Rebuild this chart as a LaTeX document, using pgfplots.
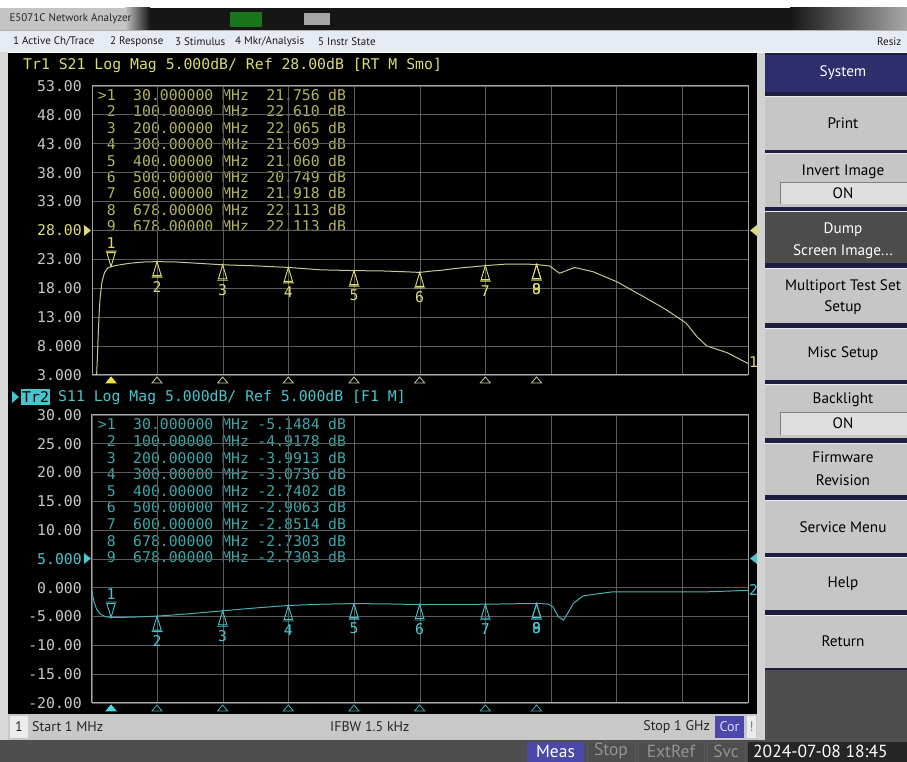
\documentclass[border=0pt]{standalone}
\usepackage{fontspec}
\usepackage{pgfplots}
\pgfplotsset{compat=1.18}
\setmainfont{PT Sans}
\newfontfamily\mono{DejaVu Sans Mono}
\newfontfamily\ui{PT Sans}
\newcommand\mf{\mono\fontsize{14.8pt}{16pt}\selectfont}
\newcommand\sk{\ui\fontsize{15.2pt}{17pt}\selectfont}
\newcommand\mnb{\ui\fontsize{11pt}{13pt}\selectfont}
\newcommand\stb{\ui\fontsize{14pt}{16pt}\selectfont}
\newcommand\btb{\ui\fontsize{17.5pt}{19pt}\selectfont}

\definecolor{gridc}{HTML}{5C5C5C}
\definecolor{borderc}{HTML}{A4A4A4}
\definecolor{tickc}{HTML}{C8C8C8}
\definecolor{trAline}{HTML}{C8C890}
\definecolor{trA}{HTML}{DCDC70}
\definecolor{trAtab}{HTML}{B4B45C}
\definecolor{trAdim}{HTML}{CACAA6}
\definecolor{trAbright}{HTML}{F2E436}
\definecolor{trBline}{HTML}{4AB0B4}
\definecolor{trB}{HTML}{46C6CE}
\definecolor{trBtab}{HTML}{3AA8AA}
\definecolor{trBdim}{HTML}{40B4B8}
\definecolor{trBbright}{HTML}{40E0E8}
\definecolor{btn}{HTML}{C6C6C6}
\definecolor{btndark}{HTML}{4C4C4C}
\definecolor{hdr}{HTML}{2E2E6C}
\definecolor{panel}{HTML}{1E1E42}
\definecolor{menubg}{HTML}{E6EAF2}
\definecolor{statusbg}{HTML}{C8C8C8}
\definecolor{bottombg}{HTML}{4E4E4E}
\definecolor{corbg}{HTML}{4A48A8}
\definecolor{tbdark}{HTML}{161616}
\definecolor{tblight}{HTML}{C4C4C4}
\definecolor{tbright}{HTML}{A8A8A8}
\definecolor{onbg}{HTML}{DEDEDE}

\pgfdeclareplotmark{mkup}{%
  \pgfpathmoveto{\pgfpoint{0pt}{0pt}}%
  \pgfpathlineto{\pgfpoint{-4.2pt}{-14pt}}%
  \pgfpathlineto{\pgfpoint{4.2pt}{-14pt}}%
  \pgfpathclose
  \pgfpathmoveto{\pgfpoint{-5.5pt}{-15.5pt}}%
  \pgfpathlineto{\pgfpoint{5.5pt}{-15.5pt}}%
  \pgfusepath{stroke}}
\pgfdeclareplotmark{mkdown}{%
  \pgfpathmoveto{\pgfpoint{0pt}{0pt}}%
  \pgfpathlineto{\pgfpoint{-4.2pt}{14pt}}%
  \pgfpathlineto{\pgfpoint{4.2pt}{14pt}}%
  \pgfpathclose
  \pgfpathmoveto{\pgfpoint{-5.5pt}{15.5pt}}%
  \pgfpathlineto{\pgfpoint{5.5pt}{15.5pt}}%
  \pgfusepath{stroke}}
\pgfdeclareplotmark{mkbot}{%
  \pgfpathmoveto{\pgfpoint{0pt}{-2pt}}%
  \pgfpathlineto{\pgfpoint{-5pt}{-8pt}}%
  \pgfpathlineto{\pgfpoint{5pt}{-8pt}}%
  \pgfpathclose
  \pgfusepath{stroke}}
\pgfdeclareplotmark{mkbotf}{%
  \pgfpathmoveto{\pgfpoint{0pt}{-2pt}}%
  \pgfpathlineto{\pgfpoint{-5pt}{-8pt}}%
  \pgfpathlineto{\pgfpoint{5pt}{-8pt}}%
  \pgfpathclose
  \pgfusepath{fill,stroke}}

\pgfplotsset{
  nwa/.style={
    width=656pt, scale only axis, xmin=1, xmax=1000,
    xtick={1,100.9,200.8,300.7,400.6,500.5,600.4,700.3,800.2,900.1,1000},
    xticklabels={},
    grid=major, major grid style={color=gridc, line width=0.8pt},
    axis line style={color=borderc, line width=1pt},
    tick style={draw=none},
    yticklabel style={font=\mf, text=tickc, inner sep=0pt, anchor=east, xshift=-10pt},
    clip=false,
    every node near coord/.append style={font=\mf, anchor=center, inner sep=0pt},
  }
}

\newcommand\trow[5]{%
  \node[anchor=east,text=#5,font=\mf,inner sep=0pt,text height=11pt,text depth=0pt] at (116,#1) {#2};
  \node[anchor=west,text=#5,font=\mf,inner sep=0pt,text height=11pt,text depth=0pt] at (133,#1) {#3};
  \node[anchor=west,text=#5,font=\mf,inner sep=0pt,text height=11pt,text depth=0pt] at (222,#1) {MHz};
  \node[anchor=east,text=#5,font=\mf,inner sep=0pt,text height=11pt,text depth=0pt] at (320,#1) {#4};
  \node[anchor=west,text=#5,font=\mf,inner sep=0pt,text height=11pt,text depth=0pt] at (328,#1) {dB};
}
\newcommand\btn[3][btn]{\fill[#1] (765,#2) rectangle (907,#3);
  \draw[white!85!gray, line width=1pt] (765,#3-0.5) -- (907,#3-0.5);}

\begin{document}
\begin{tikzpicture}[x=1pt,y=1pt]
\useasboundingbox (0,0) rectangle (907,762);
\fill[white] (0,0) rectangle (907,762);
% title bar
\fill[tbdark] (0,732) rectangle (907,754);
\fill[tblight] (0,732) rectangle (125,754);
\shade[left color=tblight,right color=tbdark] (125,732) rectangle (150,754);
\fill[green!45!black!80!gray] (230,735) rectangle (262,750);
\fill[gray!70] (304,737) rectangle (330,749);
\shade[left color=tbdark,right color=tbright] (790,732) rectangle (907,754);
\node[anchor=west, font=\mnb, text=black!85] at (6,743) {E5071C Network Analyzer};
% menu bar
\fill[menubg] (0,710) rectangle (907,732);
\draw[gray!60] (0,731.5) -- (907,731.5);
\node[anchor=west, font=\mnb, text=black!90, inner sep=0pt] at (13,720.5) {1 Active Ch/Trace};
\node[anchor=west, font=\mnb, text=black!90, inner sep=0pt] at (110,720.5) {2 Response};
\node[anchor=west, font=\mnb, text=black!90, inner sep=0pt] at (175,720.5) {3 Stimulus};
\node[anchor=west, font=\mnb, text=black!90, inner sep=0pt] at (235,720.5) {4 Mkr/Analysis};
\node[anchor=west, font=\mnb, text=black!90, inner sep=0pt] at (318,720.5) {5 Instr State};
\node[anchor=west, font=\mnb, text=black!90, inner sep=0pt] at (877,720.5) {Resiz};
% main screen
\fill[gray!30] (0,22) rectangle (8,710);
\fill[black] (8,48) rectangle (757,709);
% status bar
\fill[statusbg] (8,22) rectangle (757,48);
\fill[gray!15] (10,24) rectangle (28,46);
\node[font=\stb, text=black!85] at (19,35) {1};
\node[anchor=west, font=\stb, text=black!85, inner sep=0pt] at (32,35) {Start 1 MHz};
\node[anchor=west, font=\stb, text=black!85, inner sep=0pt] at (330,35) {IFBW 1.5 kHz};
\node[anchor=east, font=\stb, text=black!85, inner sep=0pt] at (710,35) {Stop 1 GHz};
\fill[corbg] (715,24) rectangle (744,46);
\node[font=\stb, text=white!85!blue] at (729.5,35) {Cor};
\fill[gray!15] (747,24) rectangle (756,46);
\node[font=\stb, text=gray] at (751.5,35) {!};
% bottom bar
\fill[bottombg] (0,0) rectangle (907,22);
\fill[corbg] (527,0) rectangle (584,20);
\node[font=\btb, text=white, inner sep=0pt] at (555.5,10.5) {Meas};
\draw[gray!70!black, fill=bottombg] (587,0) rectangle (635,20);
\node[font=\btb, text=gray!85, inner sep=0pt] at (611,10.5) {Stop};
\draw[gray!70!black, fill=bottombg] (638,0) rectangle (704,20);
\node[font=\btb, text=gray!85, inner sep=0pt] at (671,10.5) {ExtRef};
\draw[gray!70!black, fill=bottombg] (707,0) rectangle (745,20);
\node[font=\btb, text=gray!85, inner sep=0pt] at (726,10.5) {Svc};
\fill[black!85] (748,0) rectangle (907,20);
\node[anchor=west, font=\btb, text=white, inner sep=0pt] at (753,10.5) {2024-07-08 18:45};
% softkey panel
\fill[panel] (757,22) rectangle (907,709);
\fill[gray!35] (757,22) rectangle (765,709);
\fill[hdr] (765,670) rectangle (907,707);
\node[font=\sk, text=white] at (843,689) {System};
\btn{612}{666} \node[font=\sk] at (843,639) {Print};
\btn{555}{609} \node[font=\sk] at (843,590) {Invert Image};
\fill[onbg] (780,558) rectangle (907,580); \draw[gray] (780,558) -- (780,580) -- (907,580);
\node[font=\sk] at (843,569) {ON};
\btn[btndark]{499}{551} \node[font=\sk, text=white] at (843,532) {Dump};
\node[font=\sk, text=white] at (843,510) {Screen Image...};
\btn{439}{494} \node[font=\sk] at (843,475) {Multiport Test Set};
\node[font=\sk] at (843,454) {Setup};
\btn{382}{434} \node[font=\sk] at (843,408) {Misc Setup};
\btn{324}{378} \node[font=\sk] at (843,362) {Backlight};
\fill[onbg] (780,327) rectangle (907,350); \draw[gray] (780,327) -- (780,350) -- (907,350);
\node[font=\sk] at (843,339) {ON};
\btn{267}{319} \node[font=\sk] at (843,305) {Firmware};
\node[font=\sk] at (843,282) {Revision};
\btn{209}{262} \node[font=\sk] at (843,235) {Service Menu};
\btn{152}{205} \node[font=\sk] at (843,178) {Help};
\btn{94}{147} \node[font=\sk] at (843,121) {Return};
\fill[bottombg] (765,22) rectangle (907,92);

% ---------- trace 1 ----------
\node[anchor=west, font=\mf, text=trA, inner sep=0pt] at (23,697) {Tr1 S21 Log Mag 5.000dB/ Ref 28.00dB [RT M Smo]};
\trow{667}{>1}{30.000000}{21.756}{trAtab}
\trow{650.6}{2}{100.00000}{22.610}{trAtab}
\trow{634.2}{3}{200.00000}{22.065}{trAtab}
\trow{617.8}{4}{300.00000}{21.609}{trAtab}
\trow{601.4}{5}{400.00000}{21.060}{trAtab}
\trow{585}{6}{500.00000}{20.749}{trAtab}
\trow{568.6}{7}{600.00000}{21.918}{trAtab}
\trow{552.2}{8}{678.00000}{22.113}{trAtab}
\trow{535.8}{9}{678.00000}{22.113}{trAtab}
\fill[trA] (84,537) -- (91,531.5) -- (84,526) -- cycle;
\fill[trA] (757,537) -- (750,531.5) -- (757,526) -- cycle;

\begin{axis}[nwa, at={(92pt,387pt)}, anchor=south west, height=289pt,
  ymin=3, ymax=53, ytick={3,8,13,18,23,28,33,38,43,48,53},
  yticklabels={3.000,8.000,13.00,18.00,23.00,{\textcolor{trA}{28.00}},33.00,38.00,43.00,48.00,53.00}]
\addplot[trAline, line width=1pt] coordinates {
 (8,3.0) (9,5.5) (10.5,10) (12,14) (13.5,16.5) (16,19) (20,20.7) (25,21.5) (30,21.756)
 (45,22.1) (60,22.35) (80,22.55) (100,22.61) (130,22.55) (166,22.3) (200,22.065)
 (246,21.9) (300,21.609) (348,21.2) (400,21.06) (444,21.0) (480,20.85) (500,20.749)
 (520,21.0) (531,21.1) (560,21.5) (600,21.918) (633,22.2) (660,22.2) (678,22.113)
 (698,21.86) (713,20.6) (736,21.6) (764,20.87) (800,19.14) (841,16.55) (876,14.25)
 (906,11.95) (922,9.64) (937,8.03) (968,6.87) (1000,5.0)};
\addplot[only marks, mark=mkup, color=trA, mark options={line width=0.9pt},
  nodes near coords, point meta=explicit symbolic,
  every node near coord/.append style={yshift=-25pt, text=trA}] coordinates {
 (100,22.61) [2] (200,22.065) [3] (300,21.609) [4] (400,21.06) [5]
 (500,20.749) [6] (600,21.918) [7] (678,22.113) [8] (678,22.113) [9]};
\addplot[only marks, mark=mkdown, color=trA, mark options={line width=0.9pt},
  nodes near coords, point meta=explicit symbolic,
  every node near coord/.append style={yshift=23pt, text=trA}] coordinates {(30,21.756) [1]};
\addplot[only marks, mark=mkbot, color=trAdim, mark options={line width=0.8pt}] coordinates {
 (100,3) (200,3) (300,3) (400,3) (500,3) (600,3) (678,3)};
\addplot[only marks, mark=mkbotf, color=trAbright, mark options={line width=0.8pt}] coordinates {(30,3)};
\end{axis}
\node[anchor=west, font=\mf, text=trA, inner sep=0pt] at (749,400) {1};

% ---------- trace 2 ----------
\fill[trB] (12,371) -- (19,365) -- (12,359) -- cycle;
\fill[trB] (21,357) rectangle (50,373);
\node[anchor=west, font=\mf, text=black, inner sep=0pt] at (22,365) {Tr2};
\node[anchor=west, font=\mf, text=trB, inner sep=0pt] at (58,365) {S11 Log Mag 5.000dB/ Ref 5.000dB [F1 M]};
\trow{337.5}{>1}{30.000000}{-5.1484}{trBtab}
\trow{320.9}{2}{100.00000}{-4.9178}{trBtab}
\trow{304.3}{3}{200.00000}{-3.9913}{trBtab}
\trow{287.7}{4}{300.00000}{-3.0736}{trBtab}
\trow{271.1}{5}{400.00000}{-2.7402}{trBtab}
\trow{254.5}{6}{500.00000}{-2.9063}{trBtab}
\trow{237.9}{7}{600.00000}{-2.8514}{trBtab}
\trow{221.3}{8}{678.00000}{-2.7303}{trBtab}
\trow{204.7}{9}{678.00000}{-2.7303}{trBtab}
\fill[trB] (84,209) -- (91,203.5) -- (84,198) -- cycle;
\fill[trB] (757,209) -- (750,203.5) -- (757,198) -- cycle;

\begin{axis}[nwa, at={(92pt,59pt)}, anchor=south west, height=288pt,
  ymin=-20, ymax=30, ytick={-20,-15,-10,-5,0,5,10,15,20,25,30},
  yticklabels={-20.00,-15.00,-10.00,-5.000,0.000,{\textcolor{trB}{5.000}},10.00,15.00,20.00,25.00,30.00}]
\addplot[trBline, line width=1pt] coordinates {
 (1,-0.4) (2.5,-1.6) (4.5,-2.6) (8,-3.7) (13,-4.5) (21,-5.0) (30,-5.148) (60,-5.1)
 (100,-4.918) (150,-4.5) (200,-3.991) (250,-3.5) (300,-3.074) (350,-2.85) (400,-2.740)
 (450,-2.8) (500,-2.906) (550,-2.88) (600,-2.851) (640,-2.78) (678,-2.730) (695,-2.8)
 (703,-3.3) (711,-5.0) (719,-5.6) (724,-4.7) (734,-2.7) (749,-1.4) (774,-1.0)
 (794,-0.7) (937,-0.7) (1000,-0.45)};
\addplot[only marks, mark=mkup, color=trB, mark options={line width=0.9pt},
  nodes near coords, point meta=explicit symbolic,
  every node near coord/.append style={yshift=-25pt, text=trB}] coordinates {
 (100,-4.9178) [2] (200,-3.9913) [3] (300,-3.0736) [4] (400,-2.7402) [5]
 (500,-2.9063) [6] (600,-2.8514) [7] (678,-2.7303) [8] (678,-2.7303) [9]};
\addplot[only marks, mark=mkdown, color=trB, mark options={line width=0.9pt},
  nodes near coords, point meta=explicit symbolic,
  every node near coord/.append style={yshift=23pt, text=trB}] coordinates {(30,-5.1484) [1]};
\addplot[only marks, mark=mkbot, color=trBdim, mark options={line width=0.8pt}] coordinates {
 (100,-20) (200,-20) (300,-20) (400,-20) (500,-20) (600,-20) (678,-20)};
\addplot[only marks, mark=mkbotf, color=trBbright, mark options={line width=0.8pt}] coordinates {(30,-20)};
\end{axis}
\node[anchor=west, font=\mf, text=trB, inner sep=0pt] at (749,172) {2};
\end{tikzpicture}
\end{document}
